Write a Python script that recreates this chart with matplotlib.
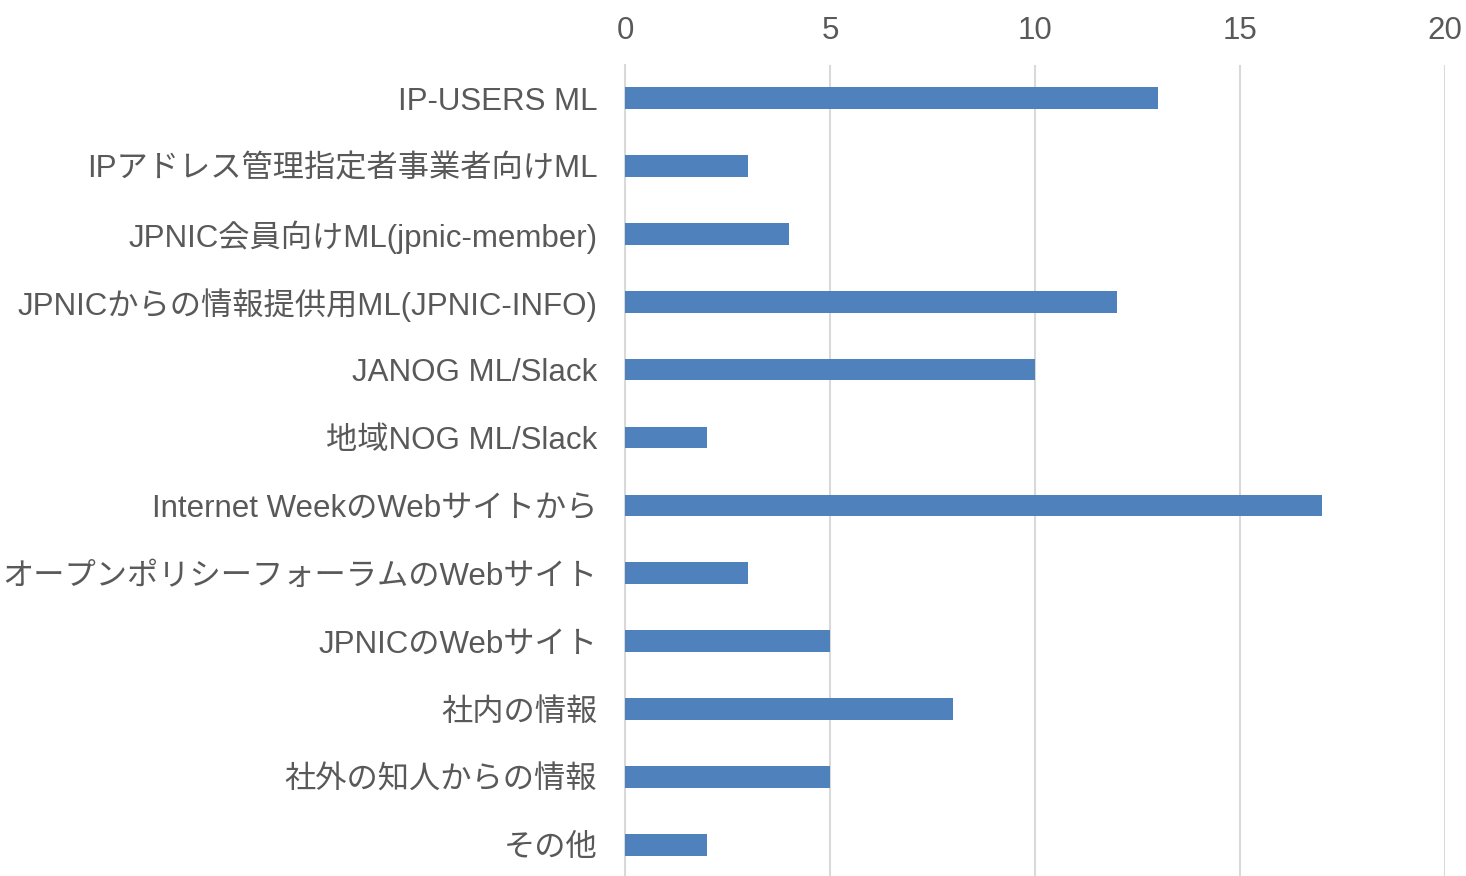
import matplotlib
matplotlib.use("Agg")
import matplotlib.pyplot as plt

plt.rcParams['font.family'] = ['Liberation Sans', 'Noto Sans CJK JP', 'DejaVu Sans']

labels = [
    "IP-USERS ML",
    "IPアドレス管理指定者事業者向けML",
    "JPNIC会員向けML(jpnic-member)",
    "JPNICからの情報提供用ML(JPNIC-INFO)",
    "JANOG ML/Slack",
    "地域NOG ML/Slack",
    "Internet WeekのWebサイトから",
    "オープンポリシーフォーラムのWebサイト",
    "JPNICのWebサイト",
    "社内の情報",
    "社外の知人からの情報",
    "その他",
]
counts = [13, 3, 4, 12, 10, 2, 17, 3, 5, 8, 5, 2]
xticks = [0, 5, 10, 15, 20]

fig = plt.figure(figsize=(14.66, 8.76), dpi=100)
ax = fig.add_axes([625 / 1466, 0, 820 / 1466, 1 - 65 / 876])

ypos = list(range(len(labels)))
ax.barh(ypos, counts, height=0.32, color='#4F81BD', zorder=3)

ax.set_xlim(0, 20)
ax.set_ylim(11.457, -0.486)
ax.set_xticks(xticks)
ax.set_yticks(ypos)
ax.set_yticklabels(labels)
ax.xaxis.tick_top()
ax.tick_params(axis='both', length=0, labelsize=22.5, colors='#595959')
ax.tick_params(axis='y', pad=20)
ax.tick_params(axis='x', pad=14)
ax.grid(axis='x', color='#D9D9D9', linewidth=1.5, zorder=0)
for s in ['top', 'right', 'bottom']:
    ax.spines[s].set_visible(False)
ax.spines['left'].set_color('#D9D9D9')
ax.spines['left'].set_linewidth(1.5)

fig.savefig("out.png", dpi=100)
